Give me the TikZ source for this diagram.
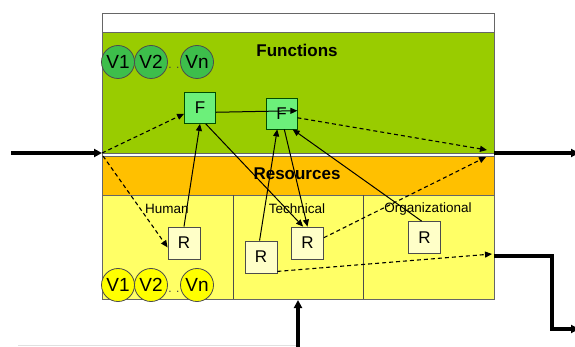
\documentclass[tikz,border=0pt]{standalone}
\usepackage{fontspec}
\setmainfont{Liberation Sans}
\usetikzlibrary{arrows.meta}

\definecolor{funcgreen}{HTML}{99CC00}
\definecolor{valgreen}{HTML}{3DBE4B}
\definecolor{fboxgreen}{HTML}{6CF07A}
\definecolor{resorange}{HTML}{FFC000}
\definecolor{resyellow}{HTML}{FFFF66}
\definecolor{rboxyellow}{HTML}{FFFFC8}
\definecolor{valyellow}{HTML}{FFFF00}

\tikzset{
  fbox/.style={draw=black!70!green, line width=0.8pt, fill=fboxgreen, minimum size=31pt, inner sep=0pt, font=\fontsize{17}{17}\selectfont},
  rbox/.style={draw=black!70, line width=0.8pt, fill=rboxyellow, minimum size=32pt, inner sep=0pt, font=\fontsize{17}{17}\selectfont},
  valcirc/.style={circle, draw=black!70, line width=0.8pt, minimum size=33pt, inner sep=0pt, font=\fontsize{19}{19}\selectfont},
  valdots/.style={anchor=base, text=black!75, font=\fontsize{12}{12}\selectfont},
  bandlabel/.style={font=\bfseries\fontsize{17}{17}\selectfont},
  collabel/.style={font=\fontsize{13.5}{13.5}\selectfont},
  flow/.style={line width=3.2pt, -{Triangle[length=8pt,width=8pt]}},
  link/.style={line width=1pt, -{Triangle[length=7pt,width=6pt]}},
  dlink/.style={line width=1.1pt, dash pattern=on 4pt off 3pt, -{Triangle[length=7pt,width=6pt]}}
}

\begin{document}
\begin{tikzpicture}[x=1pt,y=-1pt]
\useasboundingbox (0,0) rectangle (575,347);

\fill[white] (102,13) rectangle (494,32);
\fill[funcgreen] (102,32) rectangle (494,153);
\fill[white] (102,153) rectangle (494,156);
\fill[resorange] (102,156) rectangle (494,195);
\fill[resyellow] (102,195) rectangle (494,299);
\draw[black!60, line width=0.8pt] (102,13) rectangle (494,299);
\draw[black!60, line width=0.8pt] (102,32) -- (494,32) (102,153) -- (494,153) (102,156) -- (494,156) (102,195) -- (494,195);
\draw[black!70, line width=0.8pt] (233,195) -- (233,299) (363,195) -- (363,299);
\draw[black!12] (18,345) -- (296,345);

\node[bandlabel] at (297,50) (functions) {Functions};
\node[bandlabel] at (297,174) (resources) {Resources};
\node[collabel] at (167,209) (human) {Human};
\node[collabel] at (297,209) (technical) {Technical};
\node[collabel] at (428,209) (organizational) {Organizational};

\node[valcirc, fill=valgreen] at (118,62) (gv1) {V1};
\node[valcirc, fill=valgreen] at (151,62) (gv2) {V2};
\node[valdots] at (174,69) (gdots) {. .};
\node[valcirc, fill=valgreen] at (197,62) (gvn) {Vn};

\node[valcirc, fill=valyellow] at (118,285) (yv1) {V1};
\node[valcirc, fill=valyellow] at (151,285) (yv2) {V2};
\node[valdots] at (174,292) (ydots) {. .};
\node[valcirc, fill=valyellow] at (197,285) (yvn) {Vn};

\node[fbox] at (200,108) (f1) {F};
\node[fbox] at (281.5,113.5) (f2) {F};

\node[rbox] at (184,243) (r1) {R};
\node[rbox] at (261,257) (r2) {R};
\node[rbox] at (307.5,243) (r3) {R};
\node[rbox] at (424.5,237.5) (r4) {R};

\coordinate (infrom) at (11,153);
\coordinate (inpt) at (102,153);
\coordinate (inres) at (103,156);
\coordinate (outpt) at (494,153);
\coordinate (outto) at (579,153);
\coordinate (fout) at (487,150);
\coordinate (rout) at (486,157);
\coordinate (rsout) at (492,254);
\coordinate (rsfrom) at (494,256);
\coordinate (rsbend) at (552,256);
\coordinate (rsdown) at (552,329);
\coordinate (rsto) at (579,329);
\coordinate (botfrom) at (298,347);
\coordinate (botto) at (298,300);

\draw[flow] (infrom) -- (inpt);
\draw[flow] (outpt) -- (outto);
\draw[flow] (rsfrom) -- (rsbend) -- (rsdown) -- (rsto);
\draw[flow] (botfrom) -- (botto);

\draw[dlink] (inpt) -- (f1.200);
\draw[dlink] (inres) -- (r1.195);
\draw[dlink] (f2.345) -- (fout);
\draw[dlink] (r3.18) -- (rout);
\draw[dlink] ([yshift=2pt]r2.south east) -- (rsout);

\draw[link] (f1.345) -- (f2.10);
\draw[link] (r1.north) -- (f1.south);
\draw[link] (f1.290) -- (r3.105);
\draw[link] (r2.95) -- (f2.255);
\draw[link] (f2.280) -- (r3.north);
\draw[link] (r4.100) -- (f2.305);
\end{tikzpicture}
\end{document}
